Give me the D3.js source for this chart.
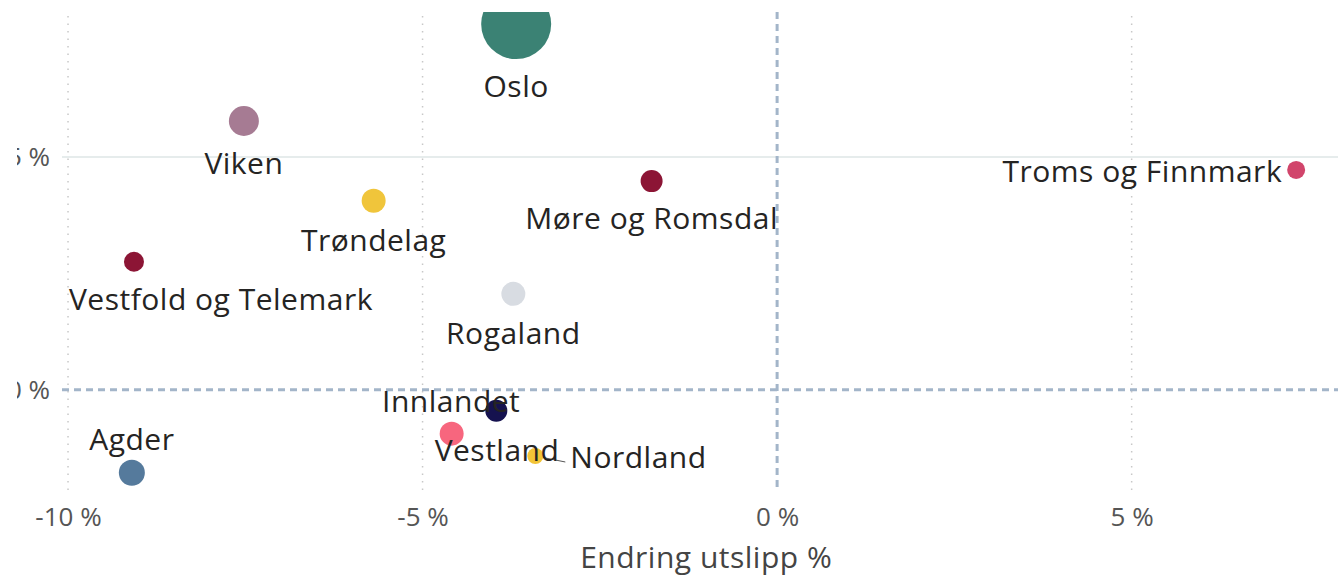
<!DOCTYPE html>
<html lang="no">
<head>
    <meta charset="UTF-8">
    <title>Endring utslipp</title>
    <style>
        body { margin: 0; background: #fff; }
        svg { display: block; font-family: "Open Sans", "Noto Sans", sans-serif; }
    </style>
</head>
<body>
    <div id="my_dataviz"></div>
    <script src="https://d3js.org/d3.v7.min.js"></script>
    <script>
        // data
        var regioner = ["Oslo", "Viken", "Troms og Finnmark", "Møre og Romsdal", "Trøndelag",
            "Vestfold og Telemark", "Rogaland", "Innlandet", "Vestland", "Nordland", "Agder"];
        var endringUtslipp = [-3.68, -7.52, 7.32, -1.77, -5.69, -9.07, -3.72, -3.96, -4.59, -3.41, -9.10];
        var endringY = [7.85, 5.77, 4.72, 4.48, 4.06, 2.75, 2.06, -0.45, -0.94, -1.42, -1.78];
        var storrelse = [1225, 225, 81, 121, 144, 100, 144, 121, 144, 64, 169];
        var farger = ["#3b8274", "#a67b93", "#d1456b", "#8c1535", "#f0c53b", "#8c1535",
            "#d8dce2", "#15124f", "#f7667e", "#f2c437", "#557a9c"];
        var xTicks = [-10, -5, 0, 5];
        var yTicks = [0, 5];

        // label placement relative to bubble centre (layout only)
        var labelPos = {
            "Oslo": { dx: 0, dy: 62, anchor: "middle" },
            "Viken": { dx: 0, dy: 42, anchor: "middle" },
            "Troms og Finnmark": { dx: -14, dy: 2, anchor: "end" },
            "Møre og Romsdal": { dx: 0, dy: 37, anchor: "middle" },
            "Trøndelag": { dx: 0, dy: 40, anchor: "middle" },
            "Vestfold og Telemark": { dx: -65, dy: 38, anchor: "start" },
            "Rogaland": { dx: 0, dy: 40, anchor: "middle" },
            "Innlandet": { dx: 24, dy: -9, anchor: "end" },
            "Vestland": { dx: -17, dy: 17, anchor: "start" },
            "Nordland": { dx: 35, dy: 2, anchor: "start", leader: true },
            "Agder": { dx: 0, dy: -33, anchor: "middle" }
        };

        var data = regioner.map(function (d, i) {
            return { navn: d, x: endringUtslipp[i], y: endringY[i], s: storrelse[i], c: farger[i] };
        });

        var width = 1338, height = 576;
        var plot = { left: 62, right: 1338, top: 12, bottom: 490 };

        var svg = d3.select("#my_dataviz")
            .append("svg")
            .attr("width", width)
            .attr("height", height);

        var x = d3.scaleLinear().domain([-10.085, 7.91]).range([plot.left, plot.right]);
        var y = d3.scaleLinear().domain([-2.15, 8.11]).range([plot.bottom, plot.top]);
        var r = d3.scaleSqrt().domain([0, d3.max(storrelse)]).range([0, 35]);

        svg.append("clipPath").attr("id", "plotclip")
            .append("rect")
            .attr("x", plot.left).attr("y", plot.top)
            .attr("width", plot.right - plot.left).attr("height", plot.bottom - plot.top);

        // y labels are cut at the left edge of the visual (clip in the axis' own coordinates)
        svg.append("clipPath").attr("id", "yclip")
            .append("rect")
            .attr("x", 17 - 50).attr("y", 0).attr("width", 60).attr("height", height);

        // vertical gridlines (dotted)
        svg.append("g")
            .selectAll("line")
            .data(xTicks.filter(function (d) { return d !== 0; }))
            .enter()
            .append("line")
            .attr("x1", function (d) { return x(d); })
            .attr("x2", function (d) { return x(d); })
            .attr("y1", plot.top + 4)
            .attr("y2", plot.bottom)
            .style("stroke", "#c8c8c8")
            .style("stroke-width", 1.5)
            .style("stroke-dasharray", "1.5,6");

        // horizontal gridline
        svg.append("g")
            .selectAll("line")
            .data(yTicks.filter(function (d) { return d !== 0; }))
            .enter()
            .append("line")
            .attr("x1", plot.left)
            .attr("x2", plot.right)
            .attr("y1", function (d) { return y(d); })
            .attr("y2", function (d) { return y(d); })
            .style("stroke", "#e6ecec")
            .style("stroke-width", 2);

        // reference lines at 0
        svg.append("line")
            .attr("x1", x(0)).attr("x2", x(0))
            .attr("y1", plot.top).attr("y2", plot.bottom)
            .style("stroke", "#a3b5c9")
            .style("stroke-width", 3)
            .style("stroke-dasharray", "7,5");
        svg.append("line")
            .attr("x1", plot.left).attr("x2", plot.right)
            .attr("y1", y(0)).attr("y2", y(0))
            .style("stroke", "#a3b5c9")
            .style("stroke-width", 3)
            .style("stroke-dasharray", "7,5");

        // x axis
        var xAxis = svg.append("g")
            .attr("transform", "translate(0," + (plot.bottom + 27) + ")")
            .call(d3.axisBottom(x).tickValues(xTicks).tickSize(0).tickPadding(0)
                .tickFormat(function (d) { return d + " %"; }));
        xAxis.select(".domain").remove();
        xAxis.selectAll("text")
            .attr("dy", ".35em")
            .style("font-family", "Open Sans")
            .style("font-size", "26px")
            .style("fill", "#555");

        // y axis
        var yAxis = svg.append("g")
            .attr("clip-path", "url(#yclip)")
            .attr("transform", "translate(50,0)")
            .call(d3.axisLeft(y).tickValues(yTicks).tickSize(0).tickPadding(0)
                .tickFormat(function (d) { return d + " %"; }));
        yAxis.select(".domain").remove();
        yAxis.selectAll("text")
            .style("font-family", "Open Sans")
            .style("font-size", "26px")
            .style("fill", "#555");

        // axis title
        svg.append("text")
            .attr("x", x(-1.0))
            .attr("y", 557)
            .attr("dy", ".35em")
            .attr("text-anchor", "middle")
            .style("font-size", "30px")
            .style("letter-spacing", "0.5px")
            .style("fill", "#444")
            .text("Endring utslipp %");

        // leader lines
        svg.append("g")
            .selectAll("line")
            .data(data.filter(function (d) { return labelPos[d.navn].leader; }))
            .enter()
            .append("line")
            .attr("x1", function (d) { return x(d.x); })
            .attr("y1", function (d) { return y(d.y); })
            .attr("x2", function (d) { return x(d.x) + labelPos[d.navn].dx - 5; })
            .attr("y2", function (d) { return y(d.y) + 6; })
            .style("stroke", "#555")
            .style("stroke-width", 1);

        // bubbles
        svg.append("g")
            .attr("clip-path", "url(#plotclip)")
            .selectAll("circle")
            .data(data)
            .enter()
            .append("circle")
            .attr("cx", function (d) { return x(d.x); })
            .attr("cy", function (d) { return y(d.y); })
            .attr("r", function (d) { return r(d.s); })
            .style("fill", function (d) { return d.c; });

        // labels
        svg.append("g")
            .selectAll("text")
            .data(data)
            .enter()
            .append("text")
            .attr("x", function (d) { return x(d.x) + labelPos[d.navn].dx; })
            .attr("y", function (d) { return y(d.y) + labelPos[d.navn].dy; })
            .attr("dy", ".35em")
            .attr("text-anchor", function (d) { return labelPos[d.navn].anchor; })
            .style("font-size", "30px")
            .style("letter-spacing", "0.5px")
            .style("fill", "#252423")
            .text(function (d) { return d.navn; });
    </script>
</body>
</html>
